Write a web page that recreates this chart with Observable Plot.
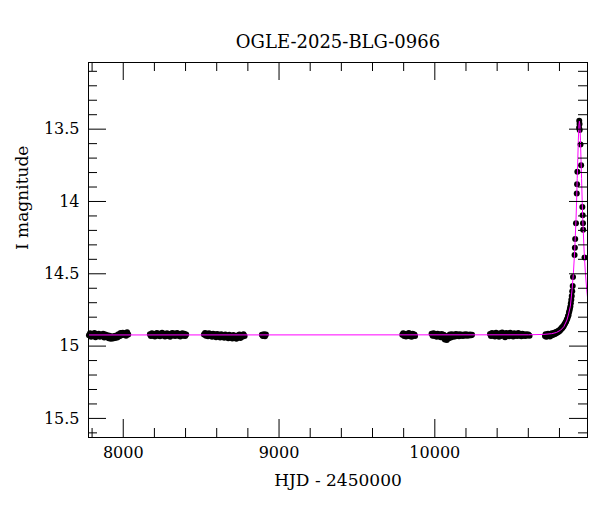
<!DOCTYPE html>
<html>
<head>
<meta charset="utf-8">
<script src="https://cdn.jsdelivr.net/npm/d3@7"></script>
<script src="https://cdn.jsdelivr.net/npm/@observablehq/plot@0.6"></script>
<style>
  html, body { margin: 0; padding: 0; background: #fff; }
  #chart { width: 600px; height: 512px; }
</style>
</head>
<body>
<div id="chart"></div>
<script>
// ---- Observed photometry (HJD - 2450000, I mag), per season ----
const hjd1 = [7780,7787,7794,7801,7808,7815,7822,7829,7836,7843,7850,7857,7864,7871,7878,7885,7892,7899,7906,7913,7920,7927,7934,7941,7948,7955,7962,7969,7976,7983,7990,7997,8004,8011,8018,8025,8032];
const mag1 = [14.925,14.912,14.935,14.918,14.930,14.910,14.938,14.920,14.928,14.914,14.936,14.922,14.931,14.915,14.940,14.919,14.933,14.925,14.945,14.928,14.950,14.935,14.948,14.930,14.944,14.926,14.940,14.918,14.932,14.910,14.925,14.908,14.922,14.912,14.928,14.905,14.920];

const hjd2 = [8171,8177,8184,8190,8197,8203,8210,8216,8223,8229,8236,8242,8249,8255,8262,8268,8275,8281,8288,8294,8301,8307,8314,8320,8327,8333,8340,8346,8353,8359,8366,8372,8379,8385,8392,8398,8404];
const mag2 = [14.918,14.930,14.912,14.928,14.916,14.934,14.920,14.910,14.929,14.915,14.932,14.921,14.908,14.926,14.914,14.933,14.919,14.911,14.930,14.917,14.935,14.922,14.909,14.927,14.913,14.931,14.918,14.910,14.929,14.916,14.934,14.920,14.912,14.928,14.915,14.930,14.919];

const hjd3 = [8518,8525,8531,8538,8544,8551,8557,8564,8570,8577,8583,8590,8596,8603,8609,8616,8622,8629,8635,8642,8648,8655,8661,8668,8674,8681,8687,8694,8700,8707,8713,8720,8726,8733,8739,8746,8752,8759,8765,8772,8779];
const mag3 = [14.920,14.910,14.928,14.915,14.932,14.912,14.926,14.918,14.935,14.914,14.929,14.920,14.938,14.916,14.931,14.922,14.940,14.918,14.934,14.925,14.942,14.920,14.936,14.928,14.945,14.922,14.938,14.930,14.948,14.924,14.940,14.932,14.950,14.926,14.938,14.920,14.944,14.928,14.936,14.918,14.930];

const hjd4 = [8890,8896,8903,8910,8916];
const mag4 = [14.922,14.930,14.918,14.932,14.920];

const hjd5 = [9791,9797,9803,9809,9815,9821,9827,9833,9839,9845,9851,9857,9863,9869,9873];
const mag5 = [14.922,14.912,14.930,14.916,14.934,14.919,14.928,14.910,14.932,14.918,14.936,14.914,14.926,14.920,14.930];

const hjd6 = [9979,9986,9992,9999,10005,10012,10018,10025,10031,10038,10044,10051,10057,10064,10070,10077,10083,10090,10096,10103,10109,10116,10122,10129,10135,10142,10148,10155,10161,10168,10174,10181,10187,10194,10200,10207,10213,10220,10226,10233,10239];
const mag6 = [14.915,14.928,14.912,14.930,14.918,14.935,14.914,14.932,14.920,14.938,14.916,14.940,14.922,14.955,14.930,14.958,14.935,14.945,14.920,14.940,14.918,14.936,14.922,14.934,14.916,14.930,14.920,14.932,14.918,14.928,14.922,14.930,14.920,14.926,14.918,14.928,14.922,14.926,14.920,14.925,14.922];

const hjd7 = [10354,10360,10367,10373,10380,10386,10393,10399,10406,10412,10419,10425,10432,10438,10445,10451,10458,10464,10471,10477,10484,10490,10497,10503,10510,10516,10523,10529,10536,10542,10549,10555,10562,10568,10575,10581,10588,10594,10601,10608];
const mag7 = [14.916,14.930,14.910,14.928,14.914,14.934,14.908,14.926,14.918,14.936,14.912,14.930,14.906,14.924,14.916,14.938,14.910,14.928,14.914,14.932,14.908,14.926,14.918,14.934,14.912,14.928,14.916,14.930,14.910,14.926,14.918,14.932,14.914,14.928,14.920,14.930,14.918,14.926,14.920,14.928];

const hjd8 = [10707,10711,10715,10719,10723,10727,10731,10735,10739,10743,10747,10751,10755,10759,10763,10767,10771,10775,10779,10783,10787,10791,10795,10799,10803,10807,10811,10815,10819,10823,10827,10831,10835,10839,10843,10847,10851,10855,10858,10861,10864,10867,10870,10873,10876,10879,10882,10885,
  10887,10897,10899,10901,10906,10911,10913,10915,10926,10927,10929,10930,10935,10939,10947,10949,10951,10952,10961];
const mag8 = [14.930,14.918,14.935,14.922,14.932,14.915,14.928,14.920,14.934,14.916,14.926,14.912,14.924,14.914,14.920,14.908,14.916,14.904,14.912,14.900,14.906,14.896,14.900,14.890,14.893,14.882,14.884,14.872,14.874,14.862,14.862,14.850,14.846,14.836,14.830,14.818,14.810,14.794,14.786,14.768,14.758,14.742,14.726,14.704,14.680,14.654,14.620,14.585,
  14.523,14.370,14.320,14.260,14.150,13.945,13.880,13.795,13.490,13.442,13.465,13.505,13.606,13.749,14.038,14.095,14.150,14.195,14.387];

// ---- Model light curve (magenta) ----
const modelHjd = [7777,10600,10700,10750,10780,10807,10828,10848,10860,10870,10881,10890,10898,10906,10910,10914,10918,10921,10925,10928,10931,10935,10938,10942,10946,10950,10958,10966,10975,10986];
const modelMag = [14.923,14.922,14.919,14.914,14.906,14.890,14.866,14.820,14.772,14.724,14.610,14.488,14.335,14.130,14.000,13.840,13.700,13.580,13.470,13.445,13.470,13.580,13.700,13.840,14.000,14.130,14.335,14.488,14.610,14.724];

// ---- Axis ticks / labels ----
const xMajor = [8000, 9000, 10000];
const xLabels = ["8000", "9000", "10000"];
const xMinor = [7800,8200,8400,8600,8800,9200,9400,9600,9800,10200,10400,10600,10800];
const yMajor = [13.5, 14, 14.5, 15, 15.5];
const yLabels = ["13.5", "14", "14.5", "15", "15.5"];
const yMinor = [13.1,13.2,13.3,13.4,13.6,13.7,13.8,13.9,14.1,14.2,14.3,14.4,14.6,14.7,14.8,14.9,15.1,15.2,15.3,15.4,15.6];
const titleText = "OGLE-2025-BLG-0966";
const xTitle = "HJD - 2450000";
const yTitle = "I magnitude";

// ---- Build tables ----
const seasonsH = [hjd1,hjd2,hjd3,hjd4,hjd5,hjd6,hjd7,hjd8];
const seasonsM = [mag1,mag2,mag3,mag4,mag5,mag6,mag7,mag8];
const obs = [];
seasonsH.forEach((hs, k) => {
  const ms = seasonsM[k];
  const n = Math.min(hs.length, ms.length);
  for (let i = 0; i < n; i++) obs.push({t: hs[i], m: ms[i]});
});
const model = modelHjd.map((t, i) => ({t, m: modelMag[i]}));

const W = 600, H = 512, ML = 88, MR = 13, MT = 62, MB = 75;
const FW = W - ML - MR, FH = H - MT - MB;
const BIG = 18, SMALL = 9;

const chart = Plot.plot({
  width: W, height: H,
  marginLeft: ML, marginRight: MR, marginTop: MT, marginBottom: MB,
  x: {domain: [7777, 10980], axis: null},
  y: {domain: [15.632, 13.039], axis: null},
  style: {fontFamily: "'DejaVu Serif', serif", background: "#fff", color: "#000"},
  marks: [
    Plot.dot(obs, {x: "t", y: "m", r: 3, fill: "#000", stroke: "none"}),
    Plot.line(model, {x: "t", y: "m", stroke: "#ff00ff", strokeWidth: 1, clip: true}),
    // ticks bottom / top
    Plot.ruleX(xMajor, {x: d => d, insetTop: FH - BIG, stroke: "#000"}),
    Plot.ruleX(xMajor, {x: d => d, insetBottom: FH - BIG, stroke: "#000"}),
    Plot.ruleX(xMinor, {x: d => d, insetTop: FH - SMALL, stroke: "#000"}),
    Plot.ruleX(xMinor, {x: d => d, insetBottom: FH - SMALL, stroke: "#000"}),
    // ticks left / right
    Plot.ruleY(yMajor, {y: d => d, insetRight: FW - BIG, stroke: "#000"}),
    Plot.ruleY(yMajor, {y: d => d, insetLeft: FW - BIG, stroke: "#000"}),
    Plot.ruleY(yMinor, {y: d => d, insetRight: FW - SMALL, stroke: "#000"}),
    Plot.ruleY(yMinor, {y: d => d, insetLeft: FW - SMALL, stroke: "#000"}),
    Plot.frame({stroke: "#000", strokeWidth: 1}),
    // tick labels
    Plot.text(xMajor, {x: d => d, text: (d, i) => xLabels[i], frameAnchor: "bottom", dy: 20, fontSize: 16, fill: "#000"}),
    Plot.text(yMajor, {y: d => d, text: (d, i) => yLabels[i], frameAnchor: "left", dx: -9, textAnchor: "end", fontSize: 16, fill: "#000"}),
    // titles
    Plot.text([titleText], {frameAnchor: "top", dy: -27, fontSize: 18, fill: "#000"}),
    Plot.text([xTitle], {frameAnchor: "bottom", dy: 48, fontSize: 17, fill: "#000"}),
    Plot.text([yTitle], {frameAnchor: "left", dx: -66, rotate: -90, fontSize: 17, fill: "#000"})
  ]
});
document.getElementById("chart").appendChild(chart);
</script>
</body>
</html>
